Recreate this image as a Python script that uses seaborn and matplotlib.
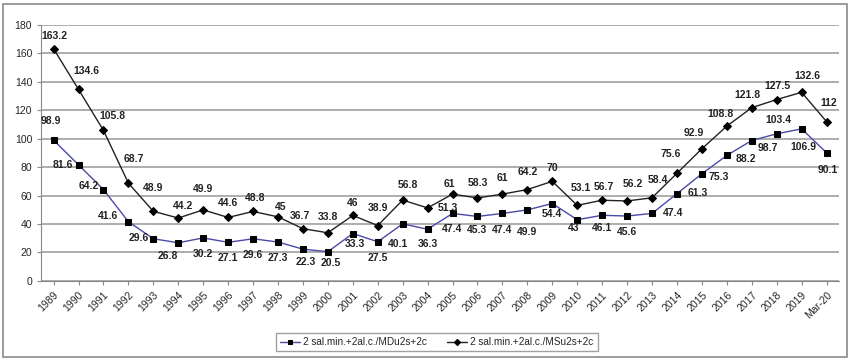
import pandas as pd
import matplotlib.pyplot as plt
import seaborn as sns
from matplotlib.patches import Rectangle

# Data
years = [str(y) for y in range(1989, 2020)] + ["Mar-20"]
series_names = ["2 sal.min.+2al.c./MDu2s+2c", "2 sal.min.+2al.c./MSu2s+2c"]
mdu_values = [98.9, 81.6, 64.2, 41.6, 29.6, 26.8, 30.2, 27.1, 29.6, 27.3, 22.3, 20.5,
              33.3, 27.5, 40.1, 36.3, 47.4, 45.3, 47.4, 49.9, 54.4, 43, 46.1, 45.6,
              47.4, 61.3, 75.3, 88.2, 98.7, 103.4, 106.9, 90.1]
msu_values = [163.2, 134.6, 105.8, 68.7, 48.9, 44.2, 49.9, 44.6, 48.8, 45, 36.7, 33.8,
              46, 38.9, 56.8, 51.3, 61, 58.3, 61, 64.2, 70, 53.1, 56.7, 56.2,
              58.4, 75.6, 92.9, 108.8, 121.8, 127.5, 132.6, 112]
y_ticks = list(range(0, 181, 20))

# label placement in pixels (dx, dy up); default below for MDu, above for MSu
mdu_offsets = {0: (-3, 19), 1: (-16, 0), 2: (-15, 4), 3: (-20, 6), 4: (-15, 1),
               5: (-10, -13), 10: (3, -13), 11: (3, -11), 12: (2, -10), 14: (-5, -20),
               15: (0, -15), 17: (0, -14), 18: (0, -17), 19: (0, -22), 20: (0, -10),
               21: (-4, -8), 22: (0, -13),
               24: (21, 0), 25: (21, 1), 26: (17, -3), 27: (19, -4),
               28: (16, -7), 29: (2, 14), 30: (2, -18), 31: (1, -17)}
msu_offsets = {0: (1, 13), 1: (8, 18), 2: (9, 14), 3: (5, 24), 4: (0, 23),
               5: (5, 12), 6: (0, 21), 7: (0, 14), 8: (2, 13), 9: (3, 10),
               10: (-3, 13), 11: (0, 16), 12: (0, 12), 13: (0, 18), 14: (5, 15),
               15: (20, 0), 16: (-3, 10), 17: (0, 15), 18: (0, 16), 19: (0, 18),
               20: (0, 13), 21: (4, 17), 22: (2, 13), 23: (6, 17), 24: (6, 18),
               25: (-6, 19), 26: (-8, 16), 27: (-6, 12), 28: (-4, 13), 29: (1, 14),
               30: (6, 16), 31: (2, 19)}


def build_frame():
    rows = []
    for name, vals in zip(series_names, [mdu_values, msu_values]):
        for i, v in enumerate(vals):
            rows.append({"idx": i, "value": v, "series": name})
    return pd.DataFrame(rows)


def plot_chart(df):
    sns.set_style("white")
    plt.rcParams["font.family"] = ["Liberation Sans", "DejaVu Sans"]

    fig = plt.figure(figsize=(8.57, 3.61), dpi=100)
    ax = fig.add_axes([0.048, 0.222, 0.931, 0.709])

    sns.lineplot(data=df, x="idx", y="value", hue="series", style="series",
                 palette={series_names[0]: "#4a4aa8", series_names[1]: "#222222"},
                 markers={series_names[0]: "s", series_names[1]: "D"},
                 dashes=False, markersize=4, markeredgecolor="black",
                 markerfacecolor="black", linewidth=1, ax=ax, legend=True)

    for vals, offsets, default in [(mdu_values, mdu_offsets, (0, -16)),
                                   (msu_values, msu_offsets, (0, 16))]:
        for i, v in enumerate(vals):
            off = offsets.get(i, default)
            ax.annotate(f"{v:g}", (i, v), xytext=off, textcoords="offset pixels",
                        ha="center", va="center", fontsize=7.5, fontweight="bold",
                        color="#222222")

    ax.set_xlim(-0.5, len(years) - 0.5)
    ax.set_ylim(0, 180)
    ax.set_yticks(y_ticks)
    ax.set_xticks(range(len(years)))
    ax.set_xticklabels(years, rotation=45, ha="right", rotation_mode="anchor", fontsize=7.5)
    ax.tick_params(axis="y", labelsize=7.5, length=3, color="#888888", direction="out", left=True)
    ax.tick_params(axis="x", length=3, color="#888888", direction="out", bottom=True)
    ax.set_xlabel("")
    ax.set_ylabel("")
    ax.grid(axis="y", color="#a0a0a0", linewidth=1.2)
    ax.set_axisbelow(True)
    for s in ["top", "right"]:
        ax.spines[s].set_visible(False)
    for s in ["left", "bottom"]:
        ax.spines[s].set_color("#888888")

    handles, labels = ax.get_legend_handles_labels()
    ax.legend(handles, labels, loc="center", bbox_to_anchor=(437 / 857, 1 - 342 / 361),
              bbox_transform=fig.transFigure, ncol=2, fontsize=7.2, frameon=True,
              fancybox=False, edgecolor="#888888", handlelength=2, columnspacing=2,
              borderpad=0.4, handletextpad=0.3, markerscale=0.8)

    fig.patches.append(Rectangle((3 / 857, 1 - 357 / 361), 844 / 857, 353 / 361,
                                 transform=fig.transFigure, fill=False,
                                 edgecolor="#8a8a8a", linewidth=1.2))
    fig.savefig("out.png", dpi=100)
    plt.close(fig)


if __name__ == "__main__":
    plot_chart(build_frame())
